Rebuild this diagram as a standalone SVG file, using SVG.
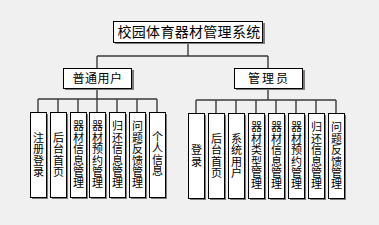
<svg xmlns="http://www.w3.org/2000/svg" width="379" height="225" viewBox="0 0 379 225">
<style>
.sh{fill:#7a7a7a}
.bx{fill:#fff;stroke:#000;stroke-width:1}
.t{font-family:"Noto Sans CJK SC","Noto Sans",sans-serif;fill:#000;text-anchor:middle}
.v{font-family:"Noto Sans CJK SC","Noto Sans",sans-serif;fill:#000;text-anchor:middle;font-size:11px;writing-mode:vertical-rl;letter-spacing:0.4px}
.c{fill:none;stroke:#3a3a3a;stroke-width:1.4}
</style>
<rect width="379" height="225" fill="#f0f0f0"/>
<g id="connectors">
<path class="c" d="M188,43V56M97,56H268M97,56V68M268,56V68"/>
<path class="c" d="M97,89V99M38,99H157M38,99V112M58,99V112M78,99V112M97,99V112M117,99V112M137,99V112M157,99V112"/>
<path class="c" d="M268,89V100M196,100H336M196,100V113M216,100V113M236,100V113M256,100V113M276,100V113M296,100V113M316,100V113M336,100V113"/>
</g>
<g id="title">
<rect class="sh" x="115" y="23" width="150" height="21"/>
<rect class="bx" x="113.5" y="21.5" width="149" height="21"/>
<text class="t" x="189" y="37" font-size="14" letter-spacing="0.3">校园体育器材管理系统</text>
</g>
<g id="user">
<rect class="sh" x="65" y="70" width="69" height="20"/>
<rect class="bx" x="63.5" y="68.5" width="68" height="20"/>
<text class="t" x="97.5" y="83" font-size="12" letter-spacing="0.5">普通用户</text>
</g>
<g id="admin">
<rect class="sh" x="236" y="70" width="69" height="20"/>
<rect class="bx" x="234.5" y="68.5" width="68" height="20"/>
<text class="t" x="269" y="83" font-size="12" letter-spacing="2">管理员</text>
</g>
<g id="u1"><rect class="sh" x="32" y="114" width="16" height="85"/><rect class="bx" x="30.5" y="112.5" width="16" height="85"/><text class="v" x="38.5" y="155">注册登录</text></g>
<g id="u2"><rect class="sh" x="52" y="114" width="16" height="85"/><rect class="bx" x="50.5" y="112.5" width="16" height="85"/><text class="v" x="58.5" y="155">后台首页</text></g>
<g id="u3"><rect class="sh" x="72" y="114" width="16" height="85"/><rect class="bx" x="70.5" y="112.5" width="16" height="85"/><text class="v" x="78.5" y="155">器材信息管理</text></g>
<g id="u4"><rect class="sh" x="91" y="114" width="16" height="85"/><rect class="bx" x="89.5" y="112.5" width="16" height="85"/><text class="v" x="97.5" y="155">器材预约管理</text></g>
<g id="u5"><rect class="sh" x="111" y="114" width="16" height="85"/><rect class="bx" x="109.5" y="112.5" width="16" height="85"/><text class="v" x="117.5" y="155">归还信息管理</text></g>
<g id="u6"><rect class="sh" x="131" y="114" width="16" height="85"/><rect class="bx" x="129.5" y="112.5" width="16" height="85"/><text class="v" x="137.5" y="155">问题反馈管理</text></g>
<g id="u7"><rect class="sh" x="151" y="114" width="16" height="85"/><rect class="bx" x="149.5" y="112.5" width="16" height="85"/><text class="v" x="157.5" y="154">个人信息</text></g>
<g id="a1"><rect class="sh" x="190" y="115" width="16" height="85"/><rect class="bx" x="188.5" y="113.5" width="16" height="85"/><text class="v" x="196.5" y="156">登录</text></g>
<g id="a2"><rect class="sh" x="210" y="115" width="16" height="85"/><rect class="bx" x="208.5" y="113.5" width="16" height="85"/><text class="v" x="216.5" y="156">后台首页</text></g>
<g id="a3"><rect class="sh" x="230" y="115" width="16" height="85"/><rect class="bx" x="228.5" y="113.5" width="16" height="85"/><text class="v" x="236.5" y="156">系统用户</text></g>
<g id="a4"><rect class="sh" x="250" y="115" width="16" height="85"/><rect class="bx" x="248.5" y="113.5" width="16" height="85"/><text class="v" x="256.5" y="156">器材类型管理</text></g>
<g id="a5"><rect class="sh" x="270" y="115" width="16" height="85"/><rect class="bx" x="268.5" y="113.5" width="16" height="85"/><text class="v" x="276.5" y="156">器材信息管理</text></g>
<g id="a6"><rect class="sh" x="290" y="115" width="16" height="85"/><rect class="bx" x="288.5" y="113.5" width="16" height="85"/><text class="v" x="296.5" y="156">器材预约管理</text></g>
<g id="a7"><rect class="sh" x="310" y="115" width="16" height="85"/><rect class="bx" x="308.5" y="113.5" width="16" height="85"/><text class="v" x="316.5" y="156">归还信息管理</text></g>
<g id="a8"><rect class="sh" x="330" y="115" width="16" height="85"/><rect class="bx" x="328.5" y="113.5" width="16" height="85"/><text class="v" x="336.5" y="156">问题反馈管理</text></g>
</svg>
